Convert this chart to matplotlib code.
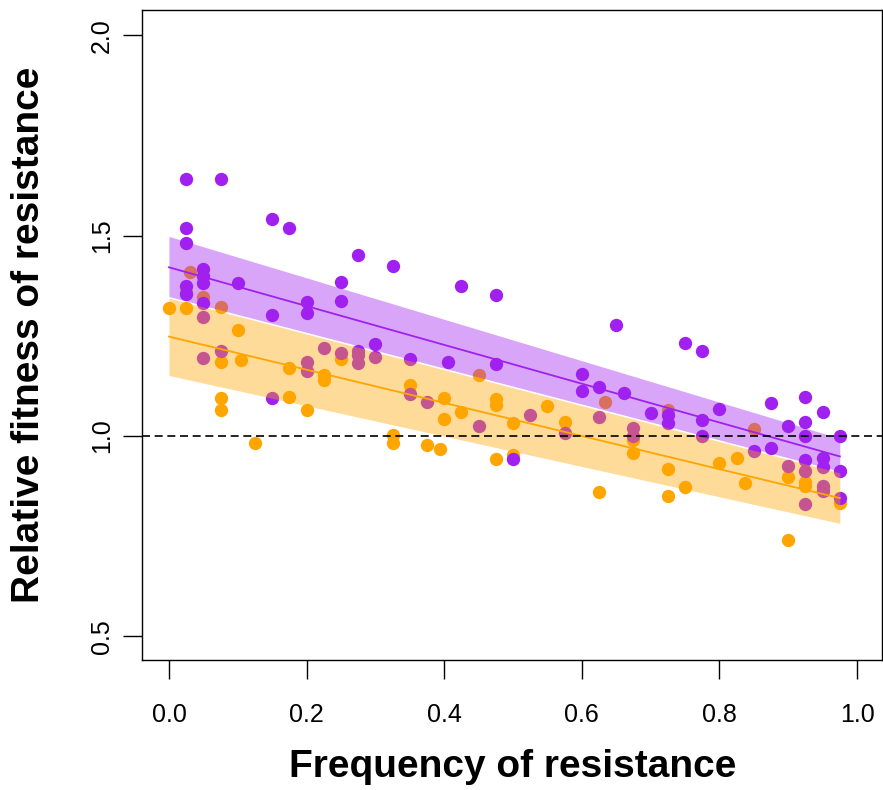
import matplotlib.pyplot as plt

# relative fitness vs frequency of resistance, two treatments
purple_x = [0.025, 0.025, 0.025, 0.025, 0.025, 0.075, 0.05, 0.05, 0.05, 0.05,
            0.05, 0.05, 0.1, 0.15, 0.15, 0.15, 0.175, 0.2, 0.2, 0.2,
            0.2, 0.075, 0.225, 0.25, 0.25, 0.25, 0.275, 0.275, 0.275, 0.275,
            0.3, 0.3, 0.325, 0.35, 0.35, 0.375, 0.405, 0.425, 0.45, 0.475,
            0.475, 0.5, 0.525, 0.575, 0.6, 0.6, 0.625, 0.625, 0.65, 0.662,
            0.675, 0.675, 0.7, 0.725, 0.725, 0.75, 0.775, 0.775, 0.775, 0.8,
            0.85, 0.875, 0.875, 0.9, 0.9, 0.925, 0.925, 0.925, 0.925, 0.925,
            0.925, 0.95, 0.95, 0.95, 0.95, 0.95, 0.975, 0.975, 0.975]
purple_y = [1.642, 1.519, 1.482, 1.374, 1.354, 1.642, 1.416, 1.399, 1.383, 1.333,
            1.298, 1.194, 1.383, 1.542, 1.302, 1.094, 1.519, 1.334, 1.306, 1.185,
            1.163, 1.213, 1.220, 1.384, 1.336, 1.206, 1.451, 1.212, 1.202, 1.181,
            1.230, 1.196, 1.423, 1.191, 1.105, 1.086, 1.185, 1.374, 1.025, 1.353,
            1.179, 0.942, 1.052, 1.008, 1.155, 1.113, 1.122, 1.048, 1.277, 1.107,
            1.021, 1.000, 1.058, 1.052, 1.033, 1.231, 1.213, 1.041, 1.000, 1.067,
            0.963, 1.083, 0.969, 1.026, 0.925, 1.097, 1.036, 1.000, 0.940, 0.913,
            0.830, 1.059, 0.944, 0.923, 0.875, 0.863, 1.000, 0.912, 0.845]

orange_x = [0.0, 0.03, 0.025, 0.025, 0.05, 0.075, 0.075, 0.075, 0.075, 0.1,
            0.104, 0.125, 0.175, 0.175, 0.2, 0.225, 0.225, 0.25, 0.325, 0.325,
            0.35, 0.375, 0.394, 0.4, 0.4, 0.425, 0.45, 0.475, 0.475, 0.475,
            0.5, 0.5, 0.55, 0.575, 0.625, 0.634, 0.675, 0.675, 0.725, 0.725,
            0.725, 0.75, 0.8, 0.825, 0.8375, 0.85, 0.9, 0.9, 0.925, 0.925,
            0.95, 0.975]
orange_y = [1.320, 1.408, 1.320, 1.360, 1.346, 1.323, 1.184, 1.094, 1.065, 1.265,
            1.190, 0.982, 1.170, 1.097, 1.065, 1.152, 1.140, 1.191, 1.003, 0.982,
            1.126, 0.978, 0.967, 1.096, 1.042, 1.059, 1.152, 1.092, 1.077, 0.942,
            1.033, 0.953, 1.076, 1.036, 0.859, 1.084, 0.990, 0.958, 1.065, 0.917,
            0.849, 0.873, 0.932, 0.946, 0.883, 1.017, 0.898, 0.740, 0.884, 0.874,
            0.870, 0.833]

# fitted lines and bands at the two ends
fit_x = [0.0, 0.975]
purple_fit = [1.421, 0.949]
purple_lo = [1.348, 0.912]
purple_hi = [1.498, 0.994]
orange_fit = [1.248, 0.845]
orange_lo = [1.151, 0.782]
orange_hi = [1.344, 0.908]

PURPLE = '#A020F0'
ORANGE = '#FFA500'

plt.rcParams['font.family'] = ['Liberation Sans', 'DejaVu Sans']

fig = plt.figure(figsize=(8.83, 7.9), dpi=100)
ax = fig.add_axes([142 / 883, 1 - 660.4 / 790, 740 / 883, 650.4 / 790])

# points first, bands drawn over them (that gives the mixed colours)
ax.scatter(orange_x, orange_y, s=92, color=ORANGE, linewidths=0, zorder=2)
ax.scatter(purple_x, purple_y, s=92, color=PURPLE, linewidths=0, zorder=2)
ax.fill_between(fit_x, purple_lo, purple_hi, color=PURPLE, alpha=0.4, linewidth=0, zorder=3)
ax.fill_between(fit_x, orange_lo, orange_hi, color=ORANGE, alpha=0.4, linewidth=0, zorder=3)
ax.plot(fit_x, purple_fit, color=PURPLE, lw=1.3, zorder=4)
ax.plot(fit_x, orange_fit, color=ORANGE, lw=1.3, zorder=4)
ax.axhline(1.0, color='black', lw=1.2, linestyle=(0, (4.8, 2.8)), zorder=5)

ax.set_xlim(-0.0392, 1.0363)
ax.set_ylim(0.44, 2.063)

xticks = [0.0, 0.2, 0.4, 0.6, 0.8, 1.0]
yticks = [0.5, 1.0, 1.5, 2.0]
ax.set_xticks(xticks)
ax.set_xticklabels([f'{t:.1f}' for t in xticks])
ax.set_yticks(yticks)
ax.set_yticklabels([f'{t:.1f}' for t in yticks], rotation=90, va='center')
ax.tick_params(axis='both', length=14, width=1, labelsize=18)
ax.tick_params(axis='x', pad=17)
ax.tick_params(axis='y', pad=6)
for sp in ax.spines.values():
    sp.set_linewidth(1)

fig.text(513 / 883, 1 - 767 / 790, 'Frequency of resistance', ha='center', va='center',
         fontsize=28, fontweight='bold')
fig.text(29 / 883, 1 - 335 / 790, 'Relative fitness of resistance', ha='center', va='center',
         rotation=90, fontsize=28, fontweight='bold')

plt.savefig('out.png', dpi=100)
